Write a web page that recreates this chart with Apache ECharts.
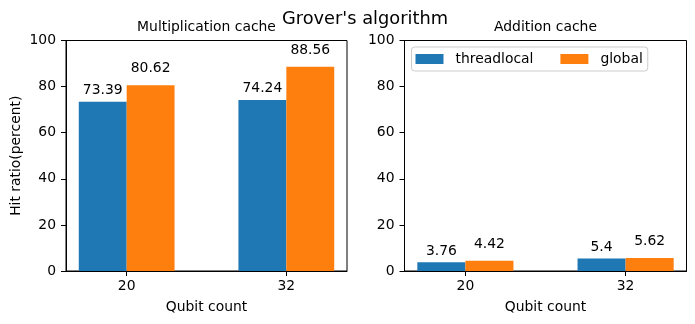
<!DOCTYPE html>
<html>
<head>
<meta charset="utf-8">
<script src="https://cdn.jsdelivr.net/npm/echarts@6/dist/echarts.min.js"></script>
<style>
html,body{margin:0;padding:0;background:#fff;}
#chart{width:695px;height:324px;}
</style>
</head>
<body>
<div id="chart"></div>
<script>
// ---- data ----
const qubits = ['20', '32'];
const seriesNames = ['threadlocal', 'global'];
const mulThreadlocal = [73.39, 74.24];
const mulGlobal = [80.62, 88.56];
const addThreadlocal = [3.76, 5.4];
const addGlobal = [4.42, 5.62];
const yTicks = [0, 20, 40, 60, 80, 100];
const subTitles = ['Multiplication cache', 'Addition cache'];
const mainTitle = "Grover's algorithm";

// ---- styling ----
const FONT = 'DejaVu Sans';
const BLUE = '#1f77b4';
const ORANGE = '#ff7f0e';
const barFrac = 0.3;
const lo = -barFrac, hi = qubits.length - 1 + barFrac;
const pad = 0.05 * (hi - lo);
const xMin = lo - pad, xMax = hi + pad;
const idx = qubits.map((q, i) => i);

const grids = [
  {left: 66, top: 40.5, width: 281, height: 230.5},
  {left: 404.5, top: 40.5, width: 282, height: 230.5}
];

function xAxis(gi) {
  return {
    gridIndex: gi, type: 'value', min: xMin, max: xMax,
    name: 'Qubit count', nameLocation: 'middle', nameGap: 29,
    nameTextStyle: {fontFamily: FONT, fontSize: 13.9, color: '#000'},
    axisLine: {show: true, onZero: false, lineStyle: {color: '#000', width: 1}},
    axisTick: {show: true, length: 5, lineStyle: {color: '#000'}, customValues: idx},
    axisLabel: {show: true, margin: 8, fontFamily: FONT, fontSize: 13.9, color: '#000',
      customValues: idx, formatter: v => qubits[Math.round(v)]},
    splitLine: {show: false}
  };
}
function yAxis(gi) {
  const a = {
    gridIndex: gi, type: 'value', min: yTicks[0], max: yTicks[yTicks.length - 1],
    interval: yTicks[1] - yTicks[0], position: 'left',
    axisLine: {show: true, onZero: false, lineStyle: {color: '#000', width: 1}},
    axisTick: {show: true, length: 5, lineStyle: {color: '#000'}},
    axisLabel: {margin: 10, fontFamily: FONT, fontSize: 13.9, color: '#000'},
    splitLine: {show: false}
  };
  if (gi === 0) {
    a.name = 'Hit ratio(percent)';
    a.nameLocation = 'middle';
    a.nameGap = 43;
    a.nameTextStyle = {fontFamily: FONT, fontSize: 13.9, color: '#000'};
  }
  return a;
}
function bars(gi, name, values, color, dist) {
  return {
    type: 'bar', name: name, xAxisIndex: gi, yAxisIndex: gi,
    data: values.map((v, i) => [i, v]),
    barWidth: (barFrac * 100) + '%', barGap: '0%',
    itemStyle: {color: color},
    label: {show: true, position: 'top', distance: dist,
      fontFamily: FONT, fontSize: 13.9, color: '#000',
      formatter: p => String(p.value[1])},
    emphasis: {disabled: true},
    animation: false
  };
}

const chart = echarts.init(document.getElementById('chart'), null, {renderer: 'canvas'});
chart.setOption({
  animation: false,
  backgroundColor: '#fff',
  grid: grids.map(g => Object.assign({show: true, borderColor: '#000', borderWidth: 1, backgroundColor: 'transparent', containLabel: false}, g)),
  xAxis: [xAxis(0), xAxis(1)],
  yAxis: [yAxis(0), yAxis(1)],
  legend: {
    data: seriesNames, left: 411.5, top: 47,
    orient: 'horizontal', itemWidth: 28, itemHeight: 10, itemGap: 27,
    icon: 'rect',
    padding: [5, 5, 5, 4],
    borderColor: '#cccccc', borderWidth: 1, borderRadius: 3, backgroundColor: 'rgba(255,255,255,0.8)',
    textStyle: {fontFamily: FONT, fontSize: 13.9, color: '#000', padding: [0, 0, 0, 7]},
    selectedMode: false
  },
  graphic: [
    {type: 'text', style: {x: 365, y: 19.5, text: mainTitle, fontFamily: FONT, fontSize: 17.8, fill: '#000', textAlign: 'center', textVerticalAlign: 'middle'}},
    {type: 'text', style: {x: grids[0].left + grids[0].width / 2, y: 27.5, text: subTitles[0], fontFamily: FONT, fontSize: 13.9, fill: '#000', textAlign: 'center', textVerticalAlign: 'middle'}},
    {type: 'text', style: {x: grids[1].left + grids[1].width / 2, y: 27.5, text: subTitles[1], fontFamily: FONT, fontSize: 13.9, fill: '#000', textAlign: 'center', textVerticalAlign: 'middle'}}
  ],
  series: [
    bars(0, seriesNames[0], mulThreadlocal, BLUE, 4),
    bars(0, seriesNames[1], mulGlobal, ORANGE, 9.5),
    bars(1, seriesNames[0], addThreadlocal, BLUE, 4),
    bars(1, seriesNames[1], addGlobal, ORANGE, 9.5)
  ]
});
</script>
</body>
</html>
